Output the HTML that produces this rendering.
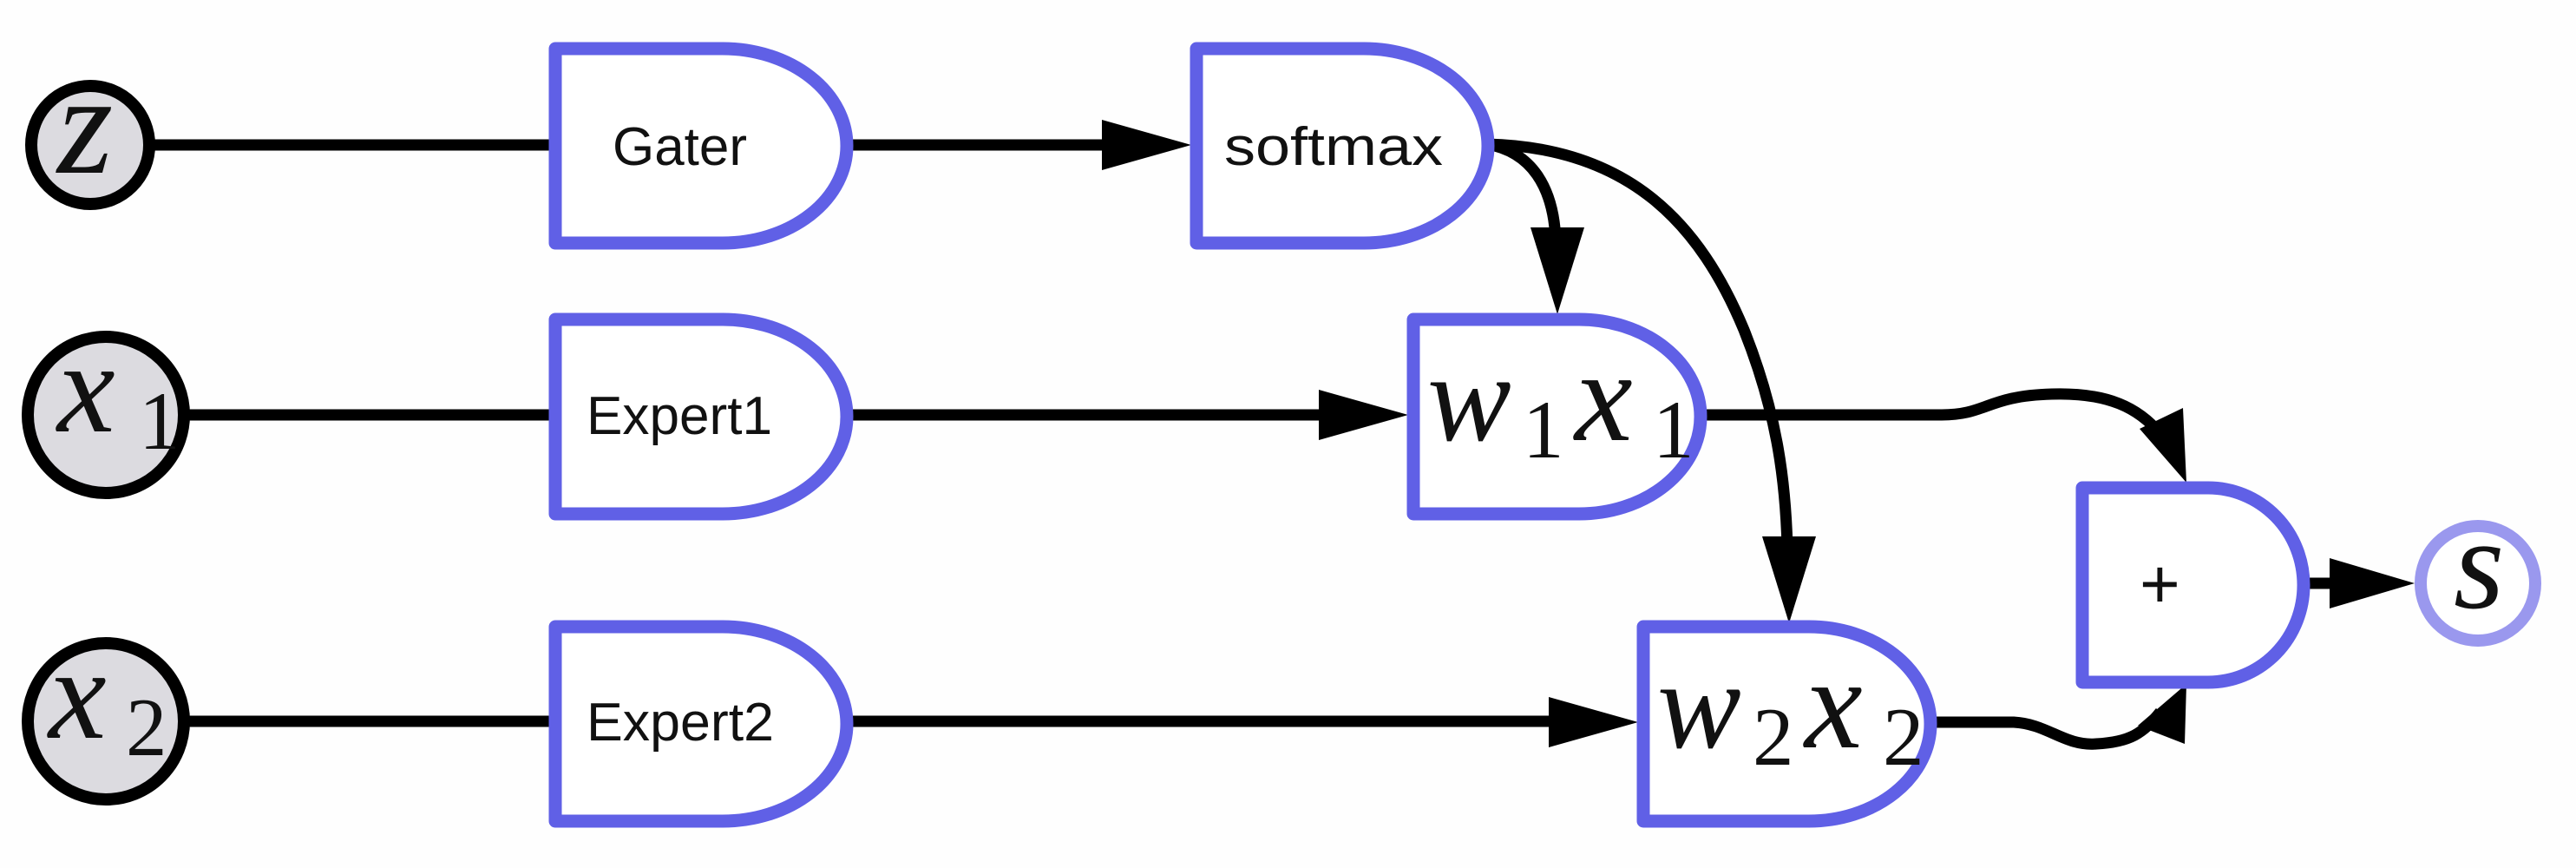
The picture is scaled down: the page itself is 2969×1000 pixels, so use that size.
<!DOCTYPE html>
<html><head><meta charset="utf-8"><style>
html,body{margin:0;padding:0;background:#fff;}
svg{display:block;}
.lbl{font-family:"Liberation Sans",sans-serif;fill:#111;}
.math{font-family:"Liberation Serif",serif;fill:#111;}
</style></head><body>
<svg width="2969" height="1000" viewBox="0 0 2969 1000" xmlns="http://www.w3.org/2000/svg">
<rect width="2969" height="1000" fill="#fefefe"/>
<g id="edges" fill="none" stroke="#000" stroke-width="13">
  <line x1="178" y1="167" x2="640" y2="167"/>
  <line x1="212" y1="478" x2="640" y2="478"/>
  <line x1="212" y1="831" x2="640" y2="831"/>
  <line x1="975" y1="167" x2="1290" y2="167"/>
  <line x1="975" y1="478" x2="1540" y2="478"/>
  <line x1="975" y1="831" x2="1800" y2="831"/>
  <path d="M1714,166 C1765,175 1790,215 1793,275"/>
  <path d="M1714,166 C1880,170 1960,260 2010,380 C2050,480 2058,560 2060,630"/>
  <path d="M1962,478 L2238,478 C2290,478 2290,456 2365,454 C2430,452 2465,470 2490,500"/>
  <path d="M2225,832 L2321,832 C2360,834 2380,860 2416,857 C2455,855 2470,845 2490,820"/>
  <line x1="2660" y1="672" x2="2700" y2="672"/>
</g>
<g id="arrows" fill="#000">
  <polygon points="1373,167 1270,138 1270,196"/>
  <polygon points="1623,478 1520,449 1520,507"/>
  <polygon points="1888,832 1785,803 1785,861"/>
  <polygon points="1795,362 1764,262 1826,262"/>
  <polygon points="2062,718 2031,618 2093,618"/>
  <polygon points="2520,556 2466,494 2516,470"/>
  <polygon points="2520,788 2518,857 2464,836"/>
  <polygon points="2783,672 2685,643 2685,701"/>
</g>
<g id="gates" fill="#fff" stroke="#6060e6" stroke-width="15" stroke-linejoin="round">
  <path d="M640,56 L833,56 A143,112 0 0 1 833,280 L640,280 Z"/>
  <path d="M1379,56 L1572,56 A143,112 0 0 1 1572,280 L1379,280 Z"/>
  <path d="M640,368 L833,368 A143,112 0 0 1 833,592 L640,592 Z"/>
  <path d="M1629,368 L1820,368 A140,112 0 0 1 1820,592 L1629,592 Z"/>
  <path d="M640,722 L833,722 A143,112 0 0 1 833,946 L640,946 Z"/>
  <path d="M1894,722 L2085,722 A140,112 0 0 1 2085,946 L1894,946 Z"/>
  <path d="M2400,562 L2545,562 A110,112 0 0 1 2545,786 L2400,786 Z"/>
</g>
<g id="nodes" stroke-width="14">
  <circle cx="104" cy="167" r="68" fill="#dcdbe0" stroke="#000"/>
  <circle cx="122" cy="478" r="90" fill="#dcdbe0" stroke="#000"/>
  <circle cx="122" cy="831" r="90" fill="#dcdbe0" stroke="#000"/>
  <circle cx="2856" cy="672" r="66" fill="#fff" stroke="#9a98ee"/>
</g>
<g id="labels">
  <text class="lbl" style="font-size:62px" x="706" y="190" textLength="155" lengthAdjust="spacingAndGlyphs">Gater</text>
  <text class="lbl" style="font-size:62px" x="1411" y="190" textLength="252" lengthAdjust="spacingAndGlyphs">softmax</text>
  <text class="lbl" style="font-size:62px" x="676" y="500" textLength="214" lengthAdjust="spacingAndGlyphs">Expert1</text>
  <text class="lbl" style="font-size:62px" x="676" y="853" textLength="216" lengthAdjust="spacingAndGlyphs">Expert2</text>
  <text class="lbl" style="font-size:80px" x="2466" y="700">+</text>
  <text class="math" style="font-size:165px;font-style:italic" x="66" y="199">z</text>
  <text class="math"><tspan style="font-size:150px;font-style:italic" x="66" y="497">x</tspan><tspan style="font-size:95px" x="160" y="517">1</tspan></text>
  <text class="math"><tspan style="font-size:150px;font-style:italic" x="56" y="850">x</tspan><tspan style="font-size:95px" x="145" y="870">2</tspan></text>
  <text class="math"><tspan style="font-size:145px;font-style:italic" x="1645" y="507">w</tspan><tspan style="font-size:95px" x="1755" y="527">1</tspan><tspan style="font-size:150px;font-style:italic" x="1815" y="507">x</tspan><tspan style="font-size:95px" x="1905" y="527">1</tspan></text>
  <text class="math"><tspan style="font-size:145px;font-style:italic" x="1910" y="861">w</tspan><tspan style="font-size:95px" x="2020" y="881">2</tspan><tspan style="font-size:150px;font-style:italic" x="2080" y="861">x</tspan><tspan style="font-size:95px" x="2170" y="881">2</tspan></text>
  <text class="math" style="font-size:150px;font-style:italic" x="2828" y="700">s</text>
</g>
</svg>
</body></html>
